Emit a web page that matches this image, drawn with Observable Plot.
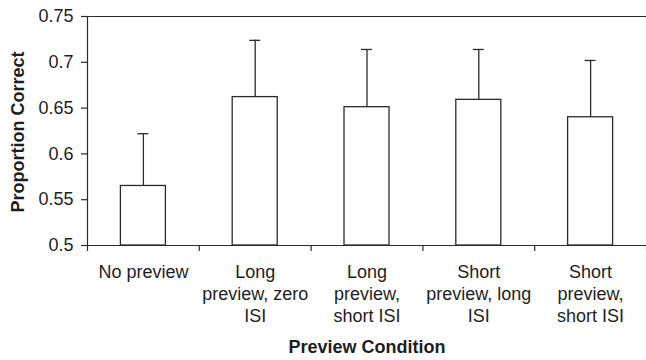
<!DOCTYPE html>
<html><head><meta charset="utf-8">
<script src="https://cdn.jsdelivr.net/npm/d3@7"></script>
<script src="https://cdn.jsdelivr.net/npm/@observablehq/plot@0.6"></script>
<style>body{margin:0;background:#fff}</style>
</head><body><div id="chart"></div>
<script>
const categories = ["No preview", "Long\npreview, zero\nISI", "Long\npreview,\nshort ISI", "Short\npreview, long\nISI", "Short\npreview,\nshort ISI"];
const means = [0.565, 0.662, 0.651, 0.659, 0.640];
const upper = [0.622, 0.724, 0.714, 0.714, 0.702];
const yDomain = [0.5, 0.75];
const yTicks = [0.5, 0.55, 0.6, 0.65, 0.7, 0.75];
const yTickLabels = ["0.5", "0.55", "0.6", "0.65", "0.7", "0.75"];
const xTitle = "Preview Condition";
const yTitle = "Proportion Correct";

const data = categories.map((c, i) => ({c, i, mean: means[i], upper: upper[i]}));
const boundaries = d3.range(categories.length + 1);
const ink = "#2b2b2b";
const txt = "#1e1e1e";

const chart = Plot.plot({
  width: 646, height: 360,
  marginLeft: 87, marginRight: 0, marginTop: 16, marginBottom: 115,
  style: {fontFamily: "'Liberation Sans', Arial, sans-serif", fontSize: "18px", color: txt, background: "#fff"},
  x: {domain: [0, categories.length]},
  y: {domain: yDomain},
  marks: [
    Plot.axisY({ticks: yTicks, tickFormat: d => yTickLabels[yTicks.indexOf(d)], tickSize: 6, tickPadding: 8, label: null, stroke: ink, strokeWidth: 1.2}),
    Plot.axisX({ticks: boundaries, tickFormat: () => "", tickSize: 6, tickPadding: 0, label: null, stroke: ink, strokeWidth: 1.2}),
    Plot.text(data, {x: d => d.i + 0.5, text: "c", frameAnchor: "bottom", lineAnchor: "top", dy: 17, lineHeight: 1.23, fill: txt}),
    Plot.ruleX(data, {x: d => d.i + 0.5, y1: "mean", y2: "upper", stroke: ink, strokeWidth: 1.3}),
    Plot.ruleY(data, {y: "upper", x1: d => d.i + 0.5, x2: d => d.i + 0.5, insetLeft: -5.5, insetRight: -5.5, stroke: ink, strokeWidth: 1.3}),
    Plot.rectY(data, {x1: "i", x2: d => d.i + 1, y1: () => yDomain[0], y2: "mean", insetLeft: 33.4, insetRight: 33.4, fill: "#fff", stroke: ink, strokeWidth: 1.3}),
    Plot.ruleX([0], {stroke: ink, strokeWidth: 1.2}),
    Plot.ruleY([yDomain[0]], {stroke: ink, strokeWidth: 1.2}),
    Plot.ruleY([yDomain[1]], {stroke: ink, strokeWidth: 1.2}),
    Plot.text([yTitle], {frameAnchor: "left", textAnchor: "middle", rotate: -90, dx: -69, dy: 1, fontWeight: "bold", fill: txt}),
    Plot.text([xTitle], {frameAnchor: "bottom", textAnchor: "middle", dy: 107, fontWeight: "bold", fill: txt})
  ]
});
document.getElementById("chart").append(chart);
</script>
</body></html>
